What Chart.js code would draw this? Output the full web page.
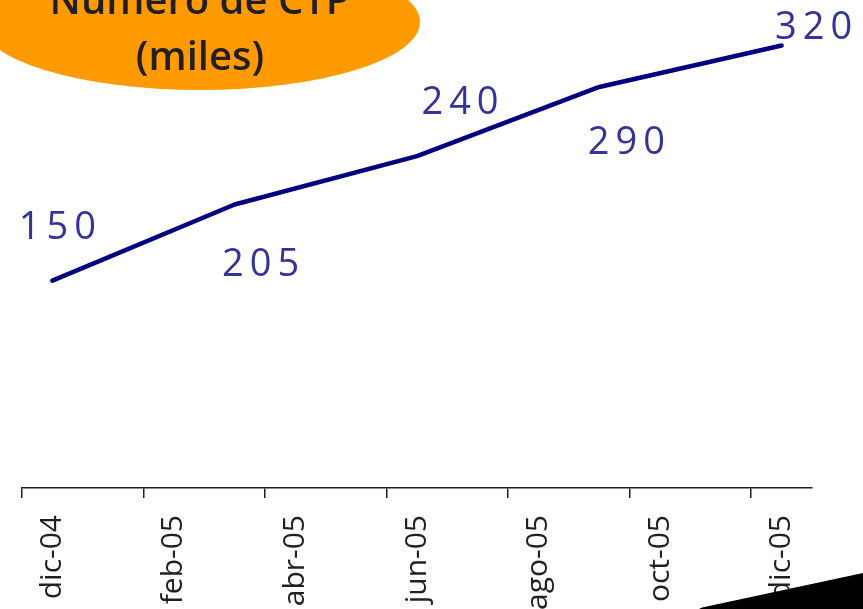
<!DOCTYPE html>
<html lang="es">
<head>
<meta charset="utf-8">
<title>Número de CTP (miles)</title>
<script src="https://cdn.jsdelivr.net/npm/chart.js@4.4.1/dist/chart.umd.min.js"></script>
<style>
  html, body { margin: 0; padding: 0; background: #ffffff; }
  body { width: 863px; height: 609px; overflow: hidden; position: relative; }
  #wrap { position: absolute; left: 0; top: 0; width: 863px; height: 609px; }
  #badge {
    position: absolute; left: -20px; top: -46px; width: 440px; height: 136px;
    border-radius: 50%; background: #ff9a00; z-index: 2;
  }
  #badgeText {
    position: absolute; left: 0; top: -29px; width: 400px; z-index: 3;
    text-align: center; font-family: "Open Sans", sans-serif; font-weight: 600;
    font-size: 40px; line-height: 56px; color: #231f20; white-space: nowrap;
  }
</style>
</head>
<body>
<div id="wrap"><canvas id="chart" width="863" height="609"></canvas></div>
<div id="badge"></div>
<div id="badgeText">Número de CTP<br>(miles)</div>
<script>
// Monthly categories; tick labels are shown every second month.
const months = ['dic-04', 'ene-05', 'feb-05', 'mar-05', 'abr-05', 'may-05', 'jun-05',
                'jul-05', 'ago-05', 'sep-05', 'oct-05', 'nov-05', 'dic-05'];
// Quarterly readings, in thousands of CTP.
const ctpMiles = [150, null, null, 205, null, null, 240, null, null, 290, null, null, 320];
// Where each value label sits relative to its point (above / below the line).
const labelOffsets = [[5, -52], null, null, [26, 61], null, null, [43, -53], null, null, [27, 56], null, null, [32, -17]];

const valueLabels = {
  id: 'valueLabels',
  afterDatasetsDraw(chart) {
    const ctx = chart.ctx;
    const meta = chart.getDatasetMeta(0);
    ctx.save();
    ctx.font = '38px "Open Sans", sans-serif';
    ctx.fillStyle = '#333399';
    ctx.textAlign = 'center';
    ctx.textBaseline = 'middle';
    if ('letterSpacing' in ctx) ctx.letterSpacing = '6px';
    meta.data.forEach((pt, i) => {
      const v = ctpMiles[i];
      if (v === null || !labelOffsets[i]) return;
      const [dx, dy] = labelOffsets[i];
      ctx.fillText(String(v), pt.x + dx + 3, pt.y + dy);
    });
    ctx.restore();
  }
};

// Dark slide corner in the lower right.
const cornerShape = {
  id: 'cornerShape',
  afterDraw(chart) {
    const ctx = chart.ctx;
    ctx.save();
    ctx.fillStyle = '#000000';
    ctx.beginPath();
    ctx.moveTo(699, 609);
    ctx.lineTo(702, 607.5);
    ctx.lineTo(863, 573);
    ctx.lineTo(863, 609);
    ctx.closePath();
    ctx.fill();
    ctx.restore();
  }
};

new Chart(document.getElementById('chart'), {
  type: 'line',
  data: {
    labels: months,
    datasets: [{
      data: ctpMiles,
      borderColor: '#000080',
      borderWidth: 4.5,
      borderCapStyle: 'round',
      borderJoinStyle: 'round',
      pointRadius: 0,
      tension: 0,
      spanGaps: true,
      fill: false
    }]
  },
  options: {
    responsive: false,
    animation: false,
    layout: { padding: { top: 4, left: 22, right: 51, bottom: 0 } },
    plugins: { legend: { display: false }, tooltip: { enabled: false } },
    scales: {
      y: { display: false, min: 0, max: 350 },
      x: {
        offset: true,
        afterFit(scale) { scale.height = 121; },
        border: { display: true, color: '#231f20', width: 1.5 },
        grid: {
          offset: true,
          drawOnChartArea: false,
          drawTicks: true,
          tickLength: 10,
          lineWidth: 1.5,
          color: (c) => (c.index % 2 === 0 ? '#231f20' : 'rgba(0,0,0,0)')
        },
        ticks: {
          autoSkip: false,
          maxRotation: 90,
          minRotation: 90,
          padding: 17,
          color: '#231f20',
          font: { family: '"Open Sans", sans-serif', size: 30 },
          callback: (v, i) => (i % 2 === 0 ? months[i] : '')
        }
      }
    }
  },
  plugins: [valueLabels, cornerShape]
});
</script>
</body>
</html>
